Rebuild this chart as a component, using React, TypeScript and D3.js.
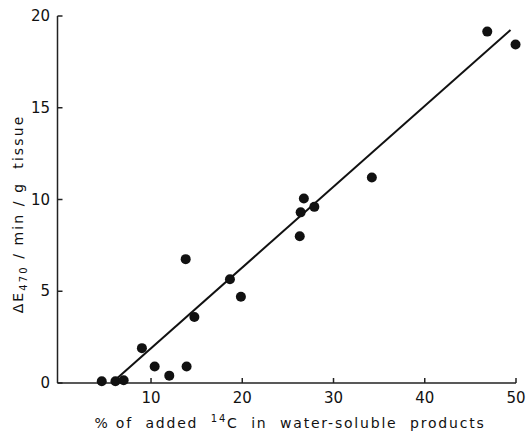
import React from "react";
import * as d3 from "d3";

const xValues = [4.6, 6.1, 7.0, 9.0, 10.4, 12.0, 13.9, 13.8, 14.75, 18.65, 19.85, 26.3, 26.4, 26.75, 27.9, 34.2, 46.85, 49.95];
const yValues = [0.1, 0.1, 0.15, 1.9, 0.9, 0.4, 0.9, 6.75, 3.6, 5.65, 4.7, 8.0, 9.3, 10.05, 9.6, 11.2, 19.15, 18.45];
const fitX = [5.7, 49.4];
const fitY = [0, 19.24];
const xTicks = [10, 20, 30, 40, 50];
const yTicks = [0, 5, 10, 15, 20];

const W = 528;
const H = 436;

export default function App() {
  const x = d3.scaleLinear().domain([-0.25, 50]).range([57.5, 516]);
  const y = d3.scaleLinear().domain([0, 20]).range([383, 16]);
  const line = d3
    .line<number>()
    .x((_, i) => x(fitX[i]))
    .y((_, i) => y(fitY[i]));
  const font = "'DejaVu Sans', sans-serif";
  return (
    <svg
      width={W}
      height={H}
      style={{ position: "absolute", left: 0, top: 0, background: "#fff" }}
    >
      {/* axes */}
      <line x1={x(-0.25)} x2={x(50)} y1={y(0)} y2={y(0)} stroke="#222" strokeWidth={1.5} />
      <line x1={x(-0.25)} x2={x(-0.25)} y1={y(0)} y2={y(20)} stroke="#222" strokeWidth={1.5} />
      {xTicks.map((t) => (
        <g key={"xt" + t}>
          <line x1={x(t)} x2={x(t)} y1={y(0)} y2={y(0) - 5} stroke="#222" strokeWidth={1.5} />
          <text
            x={x(t)}
            y={403}
            textAnchor="middle"
            fontFamily={font}
            fontSize={15}
            fill="#111"
          >
            {t}
          </text>
        </g>
      ))}
      {yTicks.map((t) => (
        <g key={"yt" + t}>
          <line x1={x(-0.25)} x2={x(-0.25) + 5} y1={y(t)} y2={y(t)} stroke="#222" strokeWidth={1.5} />
          <text
            x={50}
            y={y(t) + 5}
            textAnchor="end"
            fontFamily={font}
            fontSize={15}
            fill="#111"
          >
            {t}
          </text>
        </g>
      ))}
      {/* fit line */}
      <path d={line(fitX) || ""} fill="none" stroke="#111" strokeWidth={2} />
      {/* points */}
      {xValues.map((v, i) => (
        <circle key={"p" + i} cx={x(v)} cy={y(yValues[i])} r={5} fill="#111" />
      ))}
      {/* x title */}
      <text
        x={290}
        y={428}
        textAnchor="middle"
        fontFamily={font}
        fontSize={14}
        letterSpacing={1.8}
        fill="#111"
        style={{ whiteSpace: "pre" }}
      >
        {"% of  added  "}
        <tspan fontSize={10} dy={-6}>14</tspan>
        <tspan dy={6}>{"C  in  water-soluble  products"}</tspan>
      </text>
      {/* y title */}
      <text
        transform="translate(23,214) rotate(-90)"
        textAnchor="middle"
        fontFamily={font}
        fontSize={14}
        letterSpacing={2.1}
        fill="#111"
        style={{ whiteSpace: "pre" }}
      >
        {"ΔE"}
        <tspan fontSize={10} dy={4}>470</tspan>
        <tspan dy={-4}>{" / min / g  tissue"}</tspan>
      </text>
    </svg>
  );
}
